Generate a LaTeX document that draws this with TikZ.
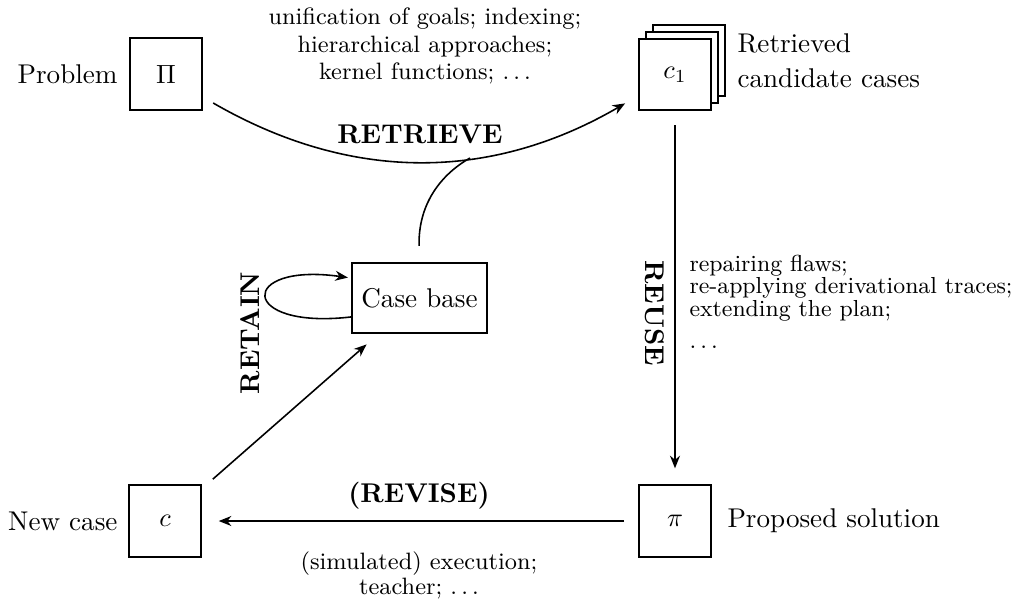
\documentclass[tikz,border=0pt]{standalone}
\usetikzlibrary{arrows.meta}
\begin{document}
\begin{tikzpicture}[x=0.38pt,y=-0.38pt,
  box/.style={draw, line width=0.75pt, minimum width=27.3pt, minimum height=27.3pt, inner sep=0pt, fill=white},
  conn/.style={line width=0.6pt, -{Stealth[length=4.8pt,width=3.8pt]}},
  plain/.style={line width=0.6pt},
  lbl/.style={font=\fontsize{10.3}{12.4}\selectfont\bfseries, inner sep=0pt},
  txt/.style={font=\fontsize{10.3}{12.4}\selectfont, inner sep=0pt},
  side/.style={font=\small, inner sep=0pt}]
\useasboundingbox (0,0) rectangle (1017,603);
% boxes
\node[box] (pi) at (166,74) {$\Pi$};
\node[box] (c1back) at (689,60.5) {};
\node[box] (c1mid) at (682,67.5) {};
\node[box] (c1) at (675,74.5) {$c_1$};
\node[box] (pis) at (675,521) {$\pi$};
\node[box] (c) at (165,521) {$c$};
\node[box, minimum width=51.3pt, minimum height=26.6pt, font=\fontsize{10.3}{12.4}\selectfont] (cb) at (419.5,298) {Case base};
% outer labels
\node[txt, anchor=east] (problem) at (118,74) {Problem};
\node[txt, anchor=east] (newcase) at (118,521) {New case};
\node[txt, anchor=west] (proposed) at (727,521) {Proposed solution};
\node[txt, anchor=west, align=left] (retrieved) at (737,61) {Retrieved\\[1pt]candidate cases};
% side texts
\node[side, align=center] (rettext) at (425,46) {unification of goals; indexing;\\[-0.7pt]hierarchical approaches;\\[-0.7pt]kernel functions; $\ldots$};
\node[side, font=\fontsize{8.8}{10.8}\selectfont, align=left, anchor=north west] (reusetext) at (689,255) {repairing flaws;\\[-2.4pt]re-applying derivational traces;\\[-2.4pt]extending the plan;\\[1.7pt]$\ldots$};
\node[side, align=center] (revtext) at (419,575) {(simulated) execution;\\[-1.5pt]teacher; $\ldots$};
% process labels
\node[lbl] (lretrieve) at (420,134) {RETRIEVE};
\node[lbl, rotate=90] (lretain) at (250,333) {RETAIN};
\node[lbl, rotate=-90] (lreuse) at (655,313) {REUSE};
\node[lbl] (lrevise) at (419,496) {(REVISE)};
% connectors
\coordinate (join) at (470,158);
\draw[conn, shorten <=4.5pt, shorten >=5.7pt] (pi.-32) .. controls (350,182) and (490,182) .. (c1.210);
\draw[plain, shorten <=6.1pt] (cb.north) .. controls (418,205) and (440,175) .. (join);
\draw[conn, shorten >=1.2pt] ([yshift=-7.2pt]cb.west) .. controls (238,330) and (238,262) .. ([yshift=7.6pt]cb.west);
\draw[conn, shorten <=5.5pt, shorten >=6pt] (c) -- (cb);
\draw[conn, shorten <=5.3pt, shorten >=6pt] (c1) -- (pis);
\draw[conn, shorten <=5.3pt, shorten >=6.4pt] (pis) -- (c);
\end{tikzpicture}
\end{document}
